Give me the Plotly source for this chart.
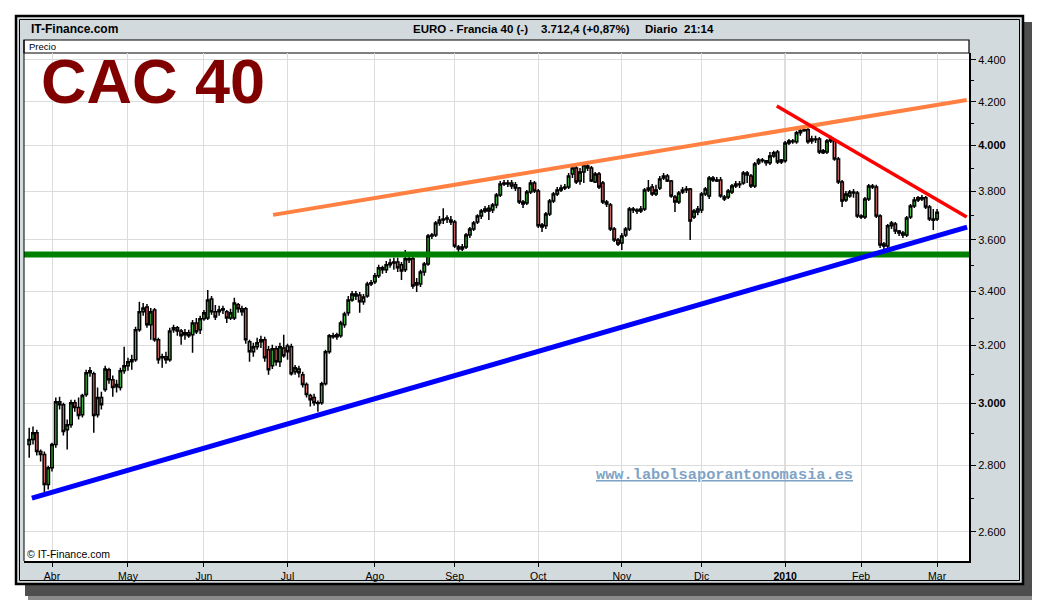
import pandas as pd
import plotly.graph_objects as go

# ---------------- data ----------------
holidays = ["2009-04-10", "2009-04-13", "2009-05-01", "2009-12-25", "2010-01-01"]
dates = [d for d in pd.bdate_range("2009-03-24", "2010-03-01") if d.strftime("%Y-%m-%d") not in holidays]

open_ = [
    2866, 2882, 2904, 2844, 2834, 2741, 2793, 2866, 3006, 2996,
    2914, 2930, 3003, 2987, 2963, 3030, 3105, 3101, 2963, 3020,
    3047, 3115, 3081, 3057, 3054, 3112, 3129, 3143, 3150, 3257,
    3323, 3341, 3275, 3330, 3221, 3157, 3161, 3150, 3257, 3264,
    3253, 3239, 3246, 3239, 3282, 3257, 3297, 3300, 3371, 3323,
    3323, 3330, 3323, 3300, 3300, 3349, 3334, 3334, 3214, 3178,
    3196, 3214, 3221, 3185, 3129, 3189, 3143, 3192, 3199, 3196,
    3108, 3118, 3098, 3064, 3027, 3020, 3003, 3003, 3067, 3178,
    3235, 3232, 3235, 3275, 3319, 3367, 3390, 3386, 3360, 3382,
    3428, 3436, 3459, 3490, 3482, 3502, 3509, 3513, 3502, 3482,
    3525, 3525, 3424, 3428, 3474, 3505, 3616, 3620, 3669, 3681,
    3685, 3681, 3673, 3572, 3564, 3572, 3620, 3644, 3673, 3697,
    3718, 3730, 3722, 3743, 3785, 3832, 3836, 3836, 3828, 3815,
    3756, 3751, 3798, 3836, 3802, 3661, 3657, 3706, 3760, 3789,
    3806, 3815, 3819, 3875, 3901, 3845, 3883, 3909, 3901, 3840,
    3875, 3836, 3756, 3743, 3644, 3600, 3588, 3620, 3644, 3726,
    3722, 3718, 3726, 3806, 3819, 3789, 3815, 3857, 3866, 3845,
    3777, 3756, 3798, 3806, 3810, 3693, 3714, 3722, 3789, 3781,
    3857, 3849, 3849, 3777, 3777, 3798, 3823, 3832, 3836, 3879,
    3866, 3823, 3922, 3936, 3932, 3923, 3953, 3971, 3927, 3932,
    4011, 4020, 4016, 4057, 4066, 4070, 4020, 4029, 4029, 3967,
    3971, 4020, 4020, 3940, 3840, 3764, 3781, 3798, 3793, 3697,
    3693, 3768, 3823, 3819, 3697, 3584, 3576, 3657, 3665, 3636,
    3628, 3620, 3693, 3739, 3764, 3773, 3773, 3735, 3685, 3685,
]
high = [
    2920, 2924, 2914, 2850, 2844, 2799, 2872, 3020, 3023, 3003,
    2947, 3013, 3013, 3020, 3033, 3115, 3125, 3108, 3054, 3040,
    3129, 3122, 3095, 3081, 3122, 3196, 3157, 3168, 3268, 3360,
    3356, 3352, 3337, 3337, 3228, 3171, 3178, 3264, 3275, 3271,
    3260, 3260, 3257, 3293, 3300, 3308, 3330, 3405, 3382, 3348,
    3345, 3345, 3330, 3334, 3375, 3356, 3345, 3341, 3221, 3210,
    3228, 3235, 3232, 3199, 3203, 3199, 3210, 3239, 3207, 3207,
    3132, 3129, 3108, 3071, 3033, 3033, 3010, 3074, 3185, 3242,
    3246, 3246, 3290, 3323, 3382, 3401, 3401, 3397, 3390, 3436,
    3443, 3470, 3502, 3498, 3517, 3525, 3529, 3529, 3513, 3560,
    3537, 3533, 3451, 3482, 3513, 3624, 3628, 3677, 3697, 3730,
    3701, 3697, 3681, 3580, 3584, 3628, 3652, 3677, 3705, 3726,
    3739, 3743, 3751, 3793, 3845, 3849, 3849, 3849, 3840, 3819,
    3764, 3806, 3849, 3845, 3810, 3669, 3714, 3768, 3798, 3819,
    3828, 3832, 3879, 3909, 3909, 3901, 3927, 3918, 3909, 3883,
    3883, 3845, 3764, 3751, 3652, 3608, 3628, 3652, 3735, 3735,
    3730, 3739, 3815, 3849, 3832, 3828, 3866, 3879, 3875, 3849,
    3785, 3802, 3819, 3823, 3815, 3726, 3739, 3798, 3819, 3866,
    3866, 3862, 3862, 3785, 3810, 3832, 3845, 3845, 3888, 3888,
    3875, 3927, 3944, 3944, 3936, 3971, 3976, 3980, 3940, 4020,
    4029, 4029, 4066, 4074, 4084, 4079, 4043, 4043, 4038, 3984,
    4029, 4043, 4029, 3949, 3849, 3802, 3806, 3810, 3802, 3705,
    3777, 3832, 3832, 3828, 3705, 3592, 3665, 3677, 3673, 3640,
    3636, 3697, 3747, 3777, 3781, 3785, 3781, 3743, 3726, 3726,
]
low = [
    2824, 2866, 2831, 2812, 2717, 2726, 2781, 2856, 2980, 2895,
    2850, 2920, 2973, 2947, 2954, 3023, 3091, 2904, 2954, 2980,
    3040, 3067, 3023, 3037, 3044, 3101, 3112, 3115, 3143, 3250,
    3308, 3264, 3221, 3214, 3136, 3122, 3136, 3143, 3246, 3235,
    3203, 3221, 3228, 3175, 3242, 3242, 3290, 3293, 3312, 3293,
    3308, 3315, 3282, 3293, 3293, 3319, 3308, 3207, 3143, 3161,
    3185, 3192, 3143, 3098, 3118, 3129, 3125, 3157, 3150, 3095,
    3098, 3088, 3054, 3020, 2990, 2993, 2973, 2996, 3061, 3171,
    3225, 3221, 3228, 3264, 3308, 3360, 3367, 3319, 3349, 3375,
    3420, 3428, 3451, 3467, 3470, 3490, 3482, 3474, 3443, 3474,
    3509, 3409, 3397, 3416, 3459, 3498, 3604, 3612, 3657, 3665,
    3669, 3661, 3568, 3552, 3556, 3564, 3608, 3636, 3665, 3685,
    3710, 3681, 3710, 3730, 3777, 3823, 3819, 3810, 3802, 3747,
    3731, 3743, 3789, 3793, 3648, 3632, 3644, 3697, 3751, 3781,
    3798, 3806, 3810, 3857, 3832, 3828, 3836, 3888, 3840, 3836,
    3810, 3747, 3735, 3636, 3592, 3576, 3560, 3612, 3636, 3710,
    3706, 3710, 3718, 3798, 3781, 3781, 3806, 3849, 3840, 3773,
    3714, 3747, 3789, 3793, 3600, 3685, 3701, 3710, 3781, 3768,
    3840, 3840, 3773, 3760, 3768, 3789, 3815, 3815, 3828, 3836,
    3815, 3815, 3914, 3923, 3910, 3914, 3945, 3918, 3918, 3923,
    4002, 4007, 4007, 4043, 4061, 4007, 4007, 4011, 3962, 3962,
    3962, 4011, 3932, 3832, 3735, 3756, 3773, 3773, 3689, 3685,
    3685, 3760, 3810, 3689, 3568, 3552, 3564, 3644, 3624, 3616,
    3608, 3612, 3685, 3731, 3756, 3760, 3726, 3677, 3640, 3677,
]
close = [
    2882, 2904, 2844, 2834, 2741, 2793, 2866, 3006, 2996, 2908,
    2930, 3003, 2987, 2960, 3027, 3105, 3112, 2960, 3020, 2996,
    3118, 3081, 3054, 3064, 3112, 3129, 3143, 3150, 3257, 3323,
    3337, 3275, 3323, 3221, 3150, 3161, 3150, 3253, 3264, 3253,
    3235, 3246, 3235, 3282, 3250, 3297, 3319, 3367, 3323, 3304,
    3330, 3334, 3300, 3319, 3356, 3334, 3323, 3221, 3178, 3196,
    3210, 3221, 3157, 3115, 3189, 3143, 3196, 3164, 3178, 3101,
    3122, 3105, 3064, 3030, 3013, 3003, 3000, 3067, 3178, 3235,
    3232, 3239, 3282, 3315, 3367, 3390, 3382, 3360, 3378, 3428,
    3432, 3459, 3490, 3482, 3502, 3509, 3513, 3490, 3478, 3525,
    3521, 3420, 3432, 3474, 3505, 3616, 3620, 3669, 3681, 3685,
    3689, 3673, 3576, 3564, 3572, 3620, 3644, 3669, 3697, 3718,
    3726, 3718, 3743, 3785, 3832, 3836, 3832, 3823, 3815, 3756,
    3747, 3798, 3836, 3802, 3657, 3652, 3706, 3760, 3789, 3806,
    3815, 3819, 3866, 3901, 3840, 3883, 3914, 3901, 3845, 3875,
    3819, 3756, 3747, 3644, 3600, 3584, 3616, 3644, 3726, 3722,
    3718, 3726, 3806, 3815, 3789, 3806, 3853, 3866, 3845, 3781,
    3756, 3793, 3806, 3810, 3677, 3718, 3726, 3789, 3810, 3857,
    3849, 3845, 3781, 3768, 3802, 3823, 3832, 3828, 3879, 3870,
    3823, 3918, 3936, 3932, 3923, 3953, 3967, 3927, 3936, 4011,
    4020, 4016, 4057, 4066, 4070, 4016, 4029, 4025, 3971, 3976,
    4020, 4029, 3940, 3840, 3760, 3789, 3798, 3793, 3697, 3693,
    3768, 3823, 3819, 3697, 3580, 3576, 3657, 3669, 3636, 3628,
    3620, 3689, 3739, 3764, 3773, 3768, 3735, 3685, 3680, 3712.4,
]

month_labels = ["Abr", "May", "Jun", "Jul", "Ago", "Sep", "Oct", "Nov", "Dic", "<b>2010</b>", "Feb", "Mar"]
price_ticks = [2600, 2800, 3000, 3200, 3400, 3600, 3800, 4000, 4200, 4400]
price_labels = ["2.600", "2.800", "<b>3.000</b>", "3.200", "3.400", "3.600", "3.800", "<b>4.000</b>", "4.200", "4.400"]
minor_ticks = [2700, 2900, 3100, 3300, 3500, 3700, 3900, 4100, 4300]

support_level = 3542.4
blue_x, blue_y = [0.7, 246.9], [2700, 3652]
orange_x, orange_y = [64.2, 246.8], [3702, 4208]
red_x, red_y = [196.8, 246.8], [4180, 3693]
last_price = 3712.4

# ---------------- derived ----------------
idx = list(range(len(dates)))
month_ticks = [i for i in range(1, len(dates)) if dates[i].month != dates[i - 1].month]
year_tick = month_ticks[month_labels.index("<b>2010</b>")]
X_RANGE = [-1.37, 247.4]

# the page body has an 8px margin, so the figure starts at page pixel (8, 8)
OFF = 8
W, H = 1032, 592
def px(x):
    return (x - OFF) / W
def py(y):
    return 1 - (y - OFF) / H

fig = go.Figure()

fig.add_trace(go.Scatter(x=X_RANGE, y=[support_level, support_level], mode="lines",
                         line=dict(color="#008000", width=6), hoverinfo="skip", showlegend=False))
fig.add_trace(go.Scatter(x=blue_x, y=blue_y, mode="lines",
                         line=dict(color="#0000ff", width=5), hoverinfo="skip", showlegend=False))
fig.add_trace(go.Scatter(x=orange_x, y=orange_y, mode="lines",
                         line=dict(color="#ff8040", width=4), hoverinfo="skip", showlegend=False))
fig.add_trace(go.Scatter(x=red_x, y=red_y, mode="lines",
                         line=dict(color="#ff0000", width=3.5), hoverinfo="skip", showlegend=False))

fig.add_trace(go.Candlestick(
    x=idx, open=open_, high=high, low=low, close=close,
    increasing=dict(fillcolor="#3cc43c", line=dict(color="#000000", width=1.5)),
    decreasing=dict(fillcolor="#e06a6a", line=dict(color="#000000", width=1.5)),
    whiskerwidth=0, showlegend=False,
))

shapes = [
    # shadow
    dict(type="rect", xref="paper", yref="paper", x0=px(28), x1=px(1040), y0=py(600), y1=py(25),
         fillcolor="#8a8a8a", line=dict(width=0), layer="below"),
    dict(type="rect", xref="paper", yref="paper", x0=px(25), x1=px(1035), y0=py(596), y1=py(22),
         fillcolor="#4e4e4e", line=dict(width=0), layer="below"),
    # panel
    dict(type="rect", xref="paper", yref="paper", x0=px(16), x1=px(1023), y0=py(584), y1=py(16),
         fillcolor="#d3dadd", line=dict(color="#000000", width=2.5), layer="below"),
    dict(type="rect", xref="paper", yref="paper", x0=px(19.5), x1=px(1019.5), y0=py(580.5), y1=py(19.5),
         fillcolor="rgba(0,0,0,0)", line=dict(color="#000000", width=1), layer="below"),
    # white plot area
    dict(type="rect", xref="paper", yref="paper", x0=px(24), x1=px(969), y0=py(561), y1=py(53),
         fillcolor="#ffffff", line=dict(width=0), layer="below"),
    # Precio strip
    dict(type="rect", xref="paper", yref="paper", x0=px(24), x1=px(969), y0=py(53), y1=py(40),
         fillcolor="#ffffff", line=dict(color="#000000", width=1.2), layer="below"),
    # left border of plot
    dict(type="line", xref="paper", yref="paper", x0=px(24), x1=px(24), y0=py(561), y1=py(40),
         line=dict(color="#000000", width=1)),
    # 2010 separator
    dict(type="line", xref="x", yref="paper", x0=year_tick, x1=year_tick, y0=py(561), y1=py(53),
         line=dict(color="#a8a8a8", width=1), layer="below"),
]

annotations = [
    dict(text="<b>IT-Finance.com</b>", x=px(29), y=py(29), xref="paper", yref="paper",
         xanchor="left", yanchor="middle", showarrow=False,
         font=dict(family="Liberation Sans, Arial", size=12, color="#000000")),
    dict(text="<b>EURO - Francia 40 (-)</b>", x=px(411), y=py(29), xref="paper", yref="paper",
         xanchor="left", yanchor="middle", showarrow=False,
         font=dict(family="Liberation Sans, Arial", size=11.5, color="#000000")),
    dict(text="<b>3.712,4 (+0,87%)</b>", x=px(539), y=py(29), xref="paper", yref="paper",
         xanchor="left", yanchor="middle", showarrow=False,
         font=dict(family="Liberation Sans, Arial", size=11.5, color="#000000")),
    dict(text="<b>Diario  21:14</b>", x=px(643), y=py(29), xref="paper", yref="paper",
         xanchor="left", yanchor="middle", showarrow=False,
         font=dict(family="Liberation Sans, Arial", size=11.5, color="#000000")),
    dict(text="Precio", x=px(27), y=py(46.5), xref="paper", yref="paper",
         xanchor="left", yanchor="middle", showarrow=False,
         font=dict(family="Liberation Sans, Arial", size=9.5, color="#000000")),
    dict(text="<b>CAC 40</b>", x=px(39), y=py(81), xref="paper", yref="paper",
         xanchor="left", yanchor="middle", showarrow=False, height=50,
         font=dict(family="Liberation Sans, Arial", size=63, color="#800000")),
    dict(text="3.542,4", x=px(25), y=support_level, xref="paper", yref="y",
         xanchor="left", yanchor="bottom", yshift=1, showarrow=False,
         font=dict(family="Liberation Sans, Arial", size=10.5, color="#000000")),
    dict(text="© IT-Finance.com", x=px(25), y=py(554), xref="paper", yref="paper",
         xanchor="left", yanchor="middle", showarrow=False,
         font=dict(family="Liberation Sans, Arial", size=10.5, color="#000000")),
    dict(text="<b>www.labolsaporantonomasia.es</b>", x=px(724), y=py(475), xref="paper", yref="paper",
         xanchor="center", yanchor="middle", showarrow=False,
         font=dict(family="Liberation Mono, Courier New", size=15.3, color="#7fa3c7", lineposition="under")),
    dict(text="3.712,4", x=px(974), y=last_price, xref="paper", yref="y",
         xanchor="left", yanchor="middle", showarrow=False, bgcolor="#ffc400",
         bordercolor="#000000", borderwidth=1, borderpad=1,
         font=dict(family="Liberation Sans, Arial", size=11, color="#000000")),
]

fig.update_layout(
    width=W, height=H,
    margin=dict(l=0, r=0, t=0, b=0),
    paper_bgcolor="#ffffff", plot_bgcolor="#ffffff",
    showlegend=False, boxgap=0.05,
    shapes=shapes, annotations=annotations,
    xaxis=dict(
        domain=[px(24), px(969)], range=X_RANGE, rangeslider=dict(visible=False),
        tickmode="array", tickvals=month_ticks, ticktext=month_labels,
        ticks="outside", ticklen=4, tickcolor="#000000", tickwidth=1,
        showgrid=True, gridcolor="#dcdcdc", gridwidth=1, zeroline=False,
        showline=True, linecolor="#000000", linewidth=2,
        tickfont=dict(family="Liberation Sans, Arial", size=10.5, color="#000000"),
        fixedrange=True,
    ),
    yaxis=dict(
        type="log", side="right", domain=[py(561), py(53)],
        range=[3.4009, 3.6468],
        tickmode="array", tickvals=price_ticks, ticktext=price_labels,
        ticks="outside", ticklen=5, tickcolor="#000000", tickwidth=1,
        minor=dict(tickmode="array", tickvals=minor_ticks, ticks="outside", ticklen=3,
                   tickcolor="#000000", showgrid=False),
        showgrid=True, gridcolor="#dcdcdc", gridwidth=1, zeroline=False,
        showline=True, linecolor="#000000", linewidth=2,
        tickfont=dict(family="Liberation Sans, Arial", size=11, color="#000000"),
        fixedrange=True,
    ),
)

fig.write_html("out.html")
